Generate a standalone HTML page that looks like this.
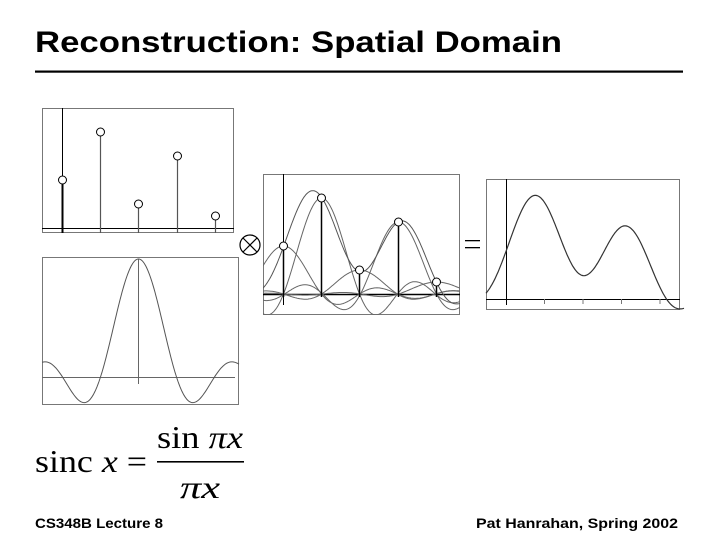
<!DOCTYPE html>
<html><head><meta charset="utf-8"><style>
html,body{margin:0;padding:0;background:#fff;}
svg{display:block;}
</style></head><body>
<svg id="s" width="720" height="540" xmlns="http://www.w3.org/2000/svg">
<text x="35" y="52" font-family="Liberation Sans, sans-serif" font-weight="bold" font-size="30" fill="#000" textLength="527" lengthAdjust="spacingAndGlyphs">Reconstruction: Spatial Domain</text>
<rect x="35" y="70.5" width="648" height="2.2" fill="#000"/>
<defs>
<clipPath id="c3"><rect x="263" y="174" width="197" height="141"/></clipPath>
</defs>
<rect x="42.5" y="108.5" width="191" height="124" fill="none" stroke="#777" stroke-width="1"/>
<line x1="42" y1="228.5" x2="234" y2="228.5" stroke="#000"/>
<line x1="62.5" y1="108" x2="62.5" y2="233" stroke="#000"/>
<g id="p1"></g>
<rect x="42.5" y="257.5" width="196" height="147" fill="none" stroke="#777"/>
<line x1="42" y1="377.5" x2="235" y2="377.5" stroke="#666"/>
<line x1="138.5" y1="259" x2="138.5" y2="384" stroke="#666"/>
<path id="sinc" fill="none" stroke="#555" stroke-width="1"/>
<circle cx="250" cy="245" r="10" fill="none" stroke="#000" stroke-width="1.2"/>
<line x1="243" y1="238" x2="257" y2="252" stroke="#000" stroke-width="1.2"/>
<line x1="257" y1="238" x2="243" y2="252" stroke="#000" stroke-width="1.2"/>
<rect x="263.5" y="174.5" width="196" height="140" fill="none" stroke="#777"/>
<line x1="263" y1="294.5" x2="460" y2="294.5" stroke="#000" stroke-width="1.5"/>
<line x1="283.5" y1="174" x2="283.5" y2="305" stroke="#000"/>
<g id="p3" clip-path="url(#c3)"></g>
<rect x="465" y="240" width="15" height="1.3" fill="#000"/>
<rect x="465" y="247" width="15" height="1.3" fill="#000"/>
<rect x="486.5" y="179.5" width="193" height="130" fill="none" stroke="#777"/>
<line x1="486" y1="299.5" x2="680" y2="299.5" stroke="#000"/>
<line x1="506.5" y1="179" x2="506.5" y2="305" stroke="#000"/>
<g id="p4"></g>
<text x="35" y="472" font-family="Liberation Serif, serif" font-size="32" fill="#000" textLength="112" lengthAdjust="spacingAndGlyphs">sinc <tspan font-style="italic">x</tspan> =</text>
<text x="157" y="448" font-family="Liberation Serif, serif" font-size="32" fill="#000" textLength="86" lengthAdjust="spacingAndGlyphs">sin <tspan font-style="italic">πx</tspan></text>
<rect x="157" y="461" width="87" height="1.6" fill="#000"/>
<text x="180" y="498" font-family="Liberation Serif, serif" font-size="32" font-style="italic" fill="#000" textLength="40" lengthAdjust="spacingAndGlyphs">πx</text>
<text x="35" y="528" font-family="Liberation Sans, sans-serif" font-weight="bold" font-size="14" fill="#000" textLength="128" lengthAdjust="spacingAndGlyphs">CS348B Lecture 8</text>
<text x="476" y="528" font-family="Liberation Sans, sans-serif" font-weight="bold" font-size="14" fill="#000" textLength="202" lengthAdjust="spacingAndGlyphs">Pat Hanrahan, Spring 2002</text>
</svg>
<script>
var NS="http://www.w3.org/2000/svg";
function el(t,a,p){var e=document.createElementNS(NS,t);for(var k in a)e.setAttribute(k,a[k]);p.appendChild(e);return e;}
function sinc(u){if(Math.abs(u)<1e-6)return 1;return Math.sin(Math.PI*u)/(Math.PI*u);}
var amps=[48,96,24,72,12];
var p1=document.getElementById('p1'),xs1=[62.5,100.5,138.5,177.5,215.5];
for(var i=0;i<5;i++){var y=228-amps[i];el('line',{x1:xs1[i],y1:y,x2:xs1[i],y2:233,stroke:i==0?'#000':'#555','stroke-width':i==0?2:1.2},p1);
el('circle',{cx:xs1[i],cy:y,r:4,fill:'#fff',stroke:'#000'},p1);}
var d='';for(var x=42;x<=239;x+=1){var y=377-118*sinc((x-138.5)/38);d+=(x==42?'M':'L')+x+','+y.toFixed(1);}
document.getElementById('sinc').setAttribute('d',d);
var p3=document.getElementById('p3'),xs3=[283.5,321.5,359.5,398.5,436.5];
for(var i=0;i<5;i++){var dd='';for(var x=263;x<=460;x++){var y=294-amps[i]*sinc((x-xs3[i])/38);dd+=(x==263?'M':'L')+x+','+y.toFixed(1);}
el('path',{d:dd,fill:'none',stroke:'#666','stroke-width':1},p3);}
var ds='';for(var x=263;x<=460;x++){var s=0;for(var i=0;i<5;i++)s+=amps[i]*sinc((x-xs3[i])/38);ds+=(x==263?'M':'L')+x+','+(294-s).toFixed(1);}
el('path',{d:ds,fill:'none',stroke:'#555','stroke-width':1},p3);
for(var i=0;i<5;i++){var y=294-amps[i];el('line',{x1:xs3[i],y1:y,x2:xs3[i],y2:297,stroke:'#000','stroke-width':1.5},p3);
el('circle',{cx:xs3[i],cy:y,r:4,fill:'#fff',stroke:'#000'},p3);}
var p4=document.getElementById('p4'),xs4=[506.5,544.5,583,621.5,660];
for(var i=1;i<5;i++)el('line',{x1:xs4[i],y1:299,x2:xs4[i],y2:304,stroke:'#777'},p4);
var d4='';for(var x=486;x<=684;x++){var s=0;for(var i=0;i<5;i++)s+=amps[i]*1.0*sinc((x-xs4[i])/38.4);d4+=(x==486?'M':'L')+x+','+(299-s).toFixed(1);}
el('path',{d:d4,fill:'none',stroke:'#333','stroke-width':1.2},p4);
</script>
</body></html>
